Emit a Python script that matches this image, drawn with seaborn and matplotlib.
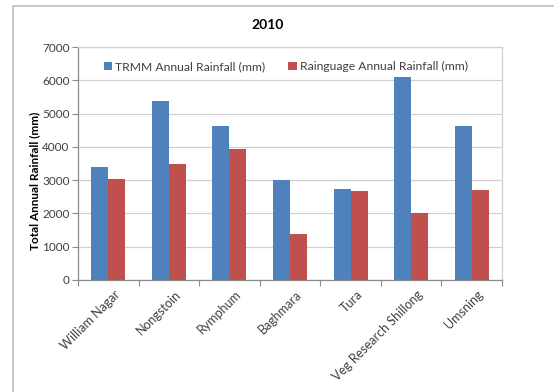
import matplotlib
matplotlib.use("Agg")
import matplotlib.pyplot as plt
import matplotlib.transforms as mtransforms
import seaborn as sns
import pandas as pd
from matplotlib.patches import Rectangle

stations = ["William Nagar", "Nongstoin", "Rymphum", "Baghmara", "Tura",
            "Veg Research Shillong", "Umsning"]
trmm_mm = [3400, 5380, 4630, 3000, 2740, 6090, 4630]
gauge_mm = [3020, 3500, 3950, 1370, 2670, 2000, 2700]
series_names = ["TRMM Annual Rainfall (mm)", "Rainguage Annual Rainfall (mm)"]
y_ticks = [0, 1000, 2000, 3000, 4000, 5000, 6000, 7000]

df = pd.DataFrame({
    "Station": stations * 2,
    "Rainfall": trmm_mm + gauge_mm,
    "Series": [series_names[0]] * len(stations) + [series_names[1]] * len(stations),
})

sns.set_theme(style="white")
plt.rcParams["font.family"] = ["Lato", "DejaVu Sans"]

W, H = 554, 392
fig = plt.figure(figsize=(W / 100, H / 100), dpi=100)
ax = fig.add_axes([78 / W, 1 - 280 / H, (502 - 78) / W, (280 - 47) / H])

sns.barplot(data=df, x="Station", y="Rainfall", hue="Series", order=stations,
            hue_order=series_names, palette=["#4F81BD", "#C0504D"],
            width=0.56, gap=0, saturation=1, edgecolor="none", ax=ax)

text_col = "#404040"
grid_col = "#D0D0D0"
axis_col = "#8C8C8C"

ax.set_ylim(0, 7000)
ax.set_xlim(-0.5, len(stations) - 0.5)
ax.set_yticks(y_ticks)
ax.set_yticklabels([str(v) for v in y_ticks], fontsize=8.5, color=text_col)
ax.yaxis.grid(True, color=grid_col, linewidth=0.9)
ax.set_axisbelow(True)
ax.tick_params(axis="y", length=4, width=0.8, color=axis_col, pad=2, left=True)

ax.set_xticks(range(len(stations)))
ax.set_xticklabels(stations, rotation=45, ha="right", rotation_mode="anchor",
                   fontsize=9, color=text_col)
ax.tick_params(axis="x", length=0, pad=6)
shift = mtransforms.ScaledTranslation(4 / 72, 0, fig.dpi_scale_trans)
for lbl in ax.get_xticklabels():
    lbl.set_transform(lbl.get_transform() + shift)
ax.set_xticks([i - 0.5 for i in range(len(stations) + 1)], minor=True)
ax.tick_params(axis="x", which="minor", length=4, width=0.8, color=axis_col, bottom=True)

ax.set_xlabel("")
ax.set_ylabel("")
for side in ["top", "right"]:
    ax.spines[side].set_color(grid_col)
    ax.spines[side].set_linewidth(0.9)
for side in ["left", "bottom"]:
    ax.spines[side].set_color(axis_col)
    ax.spines[side].set_linewidth(0.9)

handles, labels = ax.get_legend_handles_labels()
ax.legend(handles, labels, loc="upper center", bbox_to_anchor=(0.49, 0.985), ncol=2,
          frameon=False, fontsize=8.7, handlelength=0.7, handleheight=0.7,
          handletextpad=0.25, columnspacing=1.9, labelcolor=text_col)

fig.text(268 / W, 1 - 25 / H, "2010", ha="center", va="center",
         fontsize=10, fontweight="bold", color="black")
fig.text(35 / W, 1 - 181 / H, "Total Annual Rainfall (mm)", rotation=90,
         ha="center", va="center", fontsize=8.5, fontweight="bold", color="black")

# outer chart frame
fig.patches.append(Rectangle((13 / W, -0.1), 1.2, 1 - 6 / H + 0.1,
                             transform=fig.transFigure, fill=False,
                             edgecolor="#BFBFBF", linewidth=1.2))

fig.savefig("out.png", dpi=100, facecolor="white")
